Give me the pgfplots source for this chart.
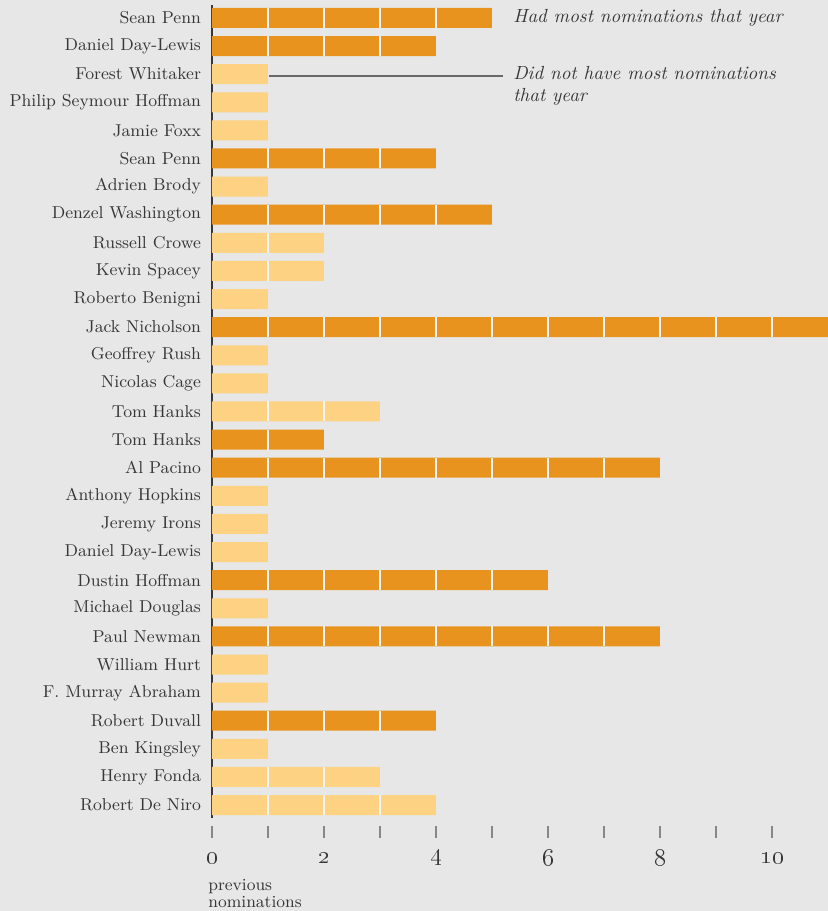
\documentclass[border=0pt]{standalone}
\usepackage{pgfplots}
\pgfplotsset{compat=1.18}
\usetikzlibrary{backgrounds}
\definecolor{bg}{RGB}{231,231,231}
\definecolor{darkor}{RGB}{232,147,30}
\definecolor{lightor}{RGB}{253,210,130}
\definecolor{txt}{RGB}{55,55,55}
\begin{document}
\begin{tikzpicture}
\begin{axis}[name=ax, scale only axis, width=308pt, height=406.5pt,
  xmin=0, xmax=11, ymin=0.54, ymax=29.46,
  axis y line*=left, axis x line*=bottom,
  x axis line style={draw=none},
  y axis line style={draw=txt, line width=1.1pt, -},
  ytick={1,...,29},
  yticklabels={Robert De Niro, Henry Fonda, Ben Kingsley, Robert Duvall, F. Murray Abraham, William Hurt, Paul Newman, Michael Douglas, Dustin Hoffman, Daniel Day-Lewis, Jeremy Irons, Anthony Hopkins, Al Pacino, Tom Hanks, Tom Hanks, Nicolas Cage, Geoffrey Rush, Jack Nicholson, Roberto Benigni, Kevin Spacey, Russell Crowe, Denzel Washington, Adrien Brody, Sean Penn, Jamie Foxx, Philip Seymour Hoffman, Forest Whitaker, Daniel Day-Lewis, Sean Penn},
  y tick label style={font=\fontsize{8.6}{10}\selectfont, text=txt, xshift=4pt},
  ytick style={draw=none},
  xtick={0,...,10},
  xticklabels={\oldstylenums{0},,\oldstylenums{2},,\oldstylenums{4},,\oldstylenums{6},,\oldstylenums{8},,\oldstylenums{10}},
  xtick style={draw=txt!60, line width=0.7pt, yshift=-7pt},
  major tick length=6pt, xtick align=center,
  x tick label style={font=\fontsize{11.5}{12}\selectfont\boldmath, text=txt, anchor=center, yshift=-17pt},
  xbar, bar width=10pt, bar shift=0pt,
]
% had most nominations that year
\addplot[fill=darkor, draw=none] coordinates {(5,29) (4,28) (4,24) (5,22) (11,18) (2,14) (8,13) (6,9) (8,7) (4,4)};
% did not have most nominations
\addplot[fill=lightor, draw=none] coordinates {(1,27) (1,26) (1,25) (1,23) (2,21) (2,20) (1,19) (1,17) (1,16) (3,15) (1,12) (1,11) (1,10) (1,8) (1,6) (1,5) (1,3) (3,2) (4,1)};
% unit separators
\addplot[only marks, mark=|, mark size=5pt, mark options={draw=bg!40!white, line width=1.1pt}] coordinates {
 (1,29) (2,29) (3,29) (4,29)
 (1,28) (2,28) (3,28)
 (1,24) (2,24) (3,24)
 (1,22) (2,22) (3,22) (4,22)
 (1,21) (1,20)
 (1,18) (2,18) (3,18) (4,18) (5,18) (6,18) (7,18) (8,18) (9,18) (10,18)
 (1,15) (2,15) (1,14)
 (1,13) (2,13) (3,13) (4,13) (5,13) (6,13) (7,13)
 (1,9) (2,9) (3,9) (4,9) (5,9)
 (1,7) (2,7) (3,7) (4,7) (5,7) (6,7) (7,7)
 (1,4) (2,4) (3,4)
 (1,2) (2,2)
 (1,1) (2,1) (3,1)};
\draw[txt!75, line width=0.7pt] (axis cs:1.02,26.93) -- (axis cs:5.2,26.93);
\node[anchor=west, font=\fontsize{9.5}{11}\selectfont\itshape, text=txt, inner sep=0pt] at (axis cs:5.375,29) {Had most nominations that year};
\node[anchor=west, font=\fontsize{9.5}{11}\selectfont\itshape, text=txt, inner sep=0pt] at (axis cs:5.375,27.03) {Did not have most nominations};
\node[anchor=west, font=\fontsize{9.5}{11}\selectfont\itshape, text=txt, inner sep=0pt] at (axis cs:5.375,26.18) {that year};
\end{axis}
\node[anchor=north west, align=left, font=\fontsize{8.5}{8.5}\selectfont, text=txt, inner sep=0pt] at ([xshift=-2pt, yshift=-30.5pt]ax.south west) {previous\\nominations};
\pgfresetboundingbox
\path[use as bounding box] ([xshift=-106pt, yshift=-46.5pt]ax.south west) rectangle ([yshift=2.5pt]ax.north east);
\begin{pgfonlayer}{background}
\fill[bg] ([xshift=-106pt, yshift=-46.5pt]ax.south west) rectangle ([yshift=2.5pt]ax.north east);
\end{pgfonlayer}
\end{tikzpicture}
\end{document}
